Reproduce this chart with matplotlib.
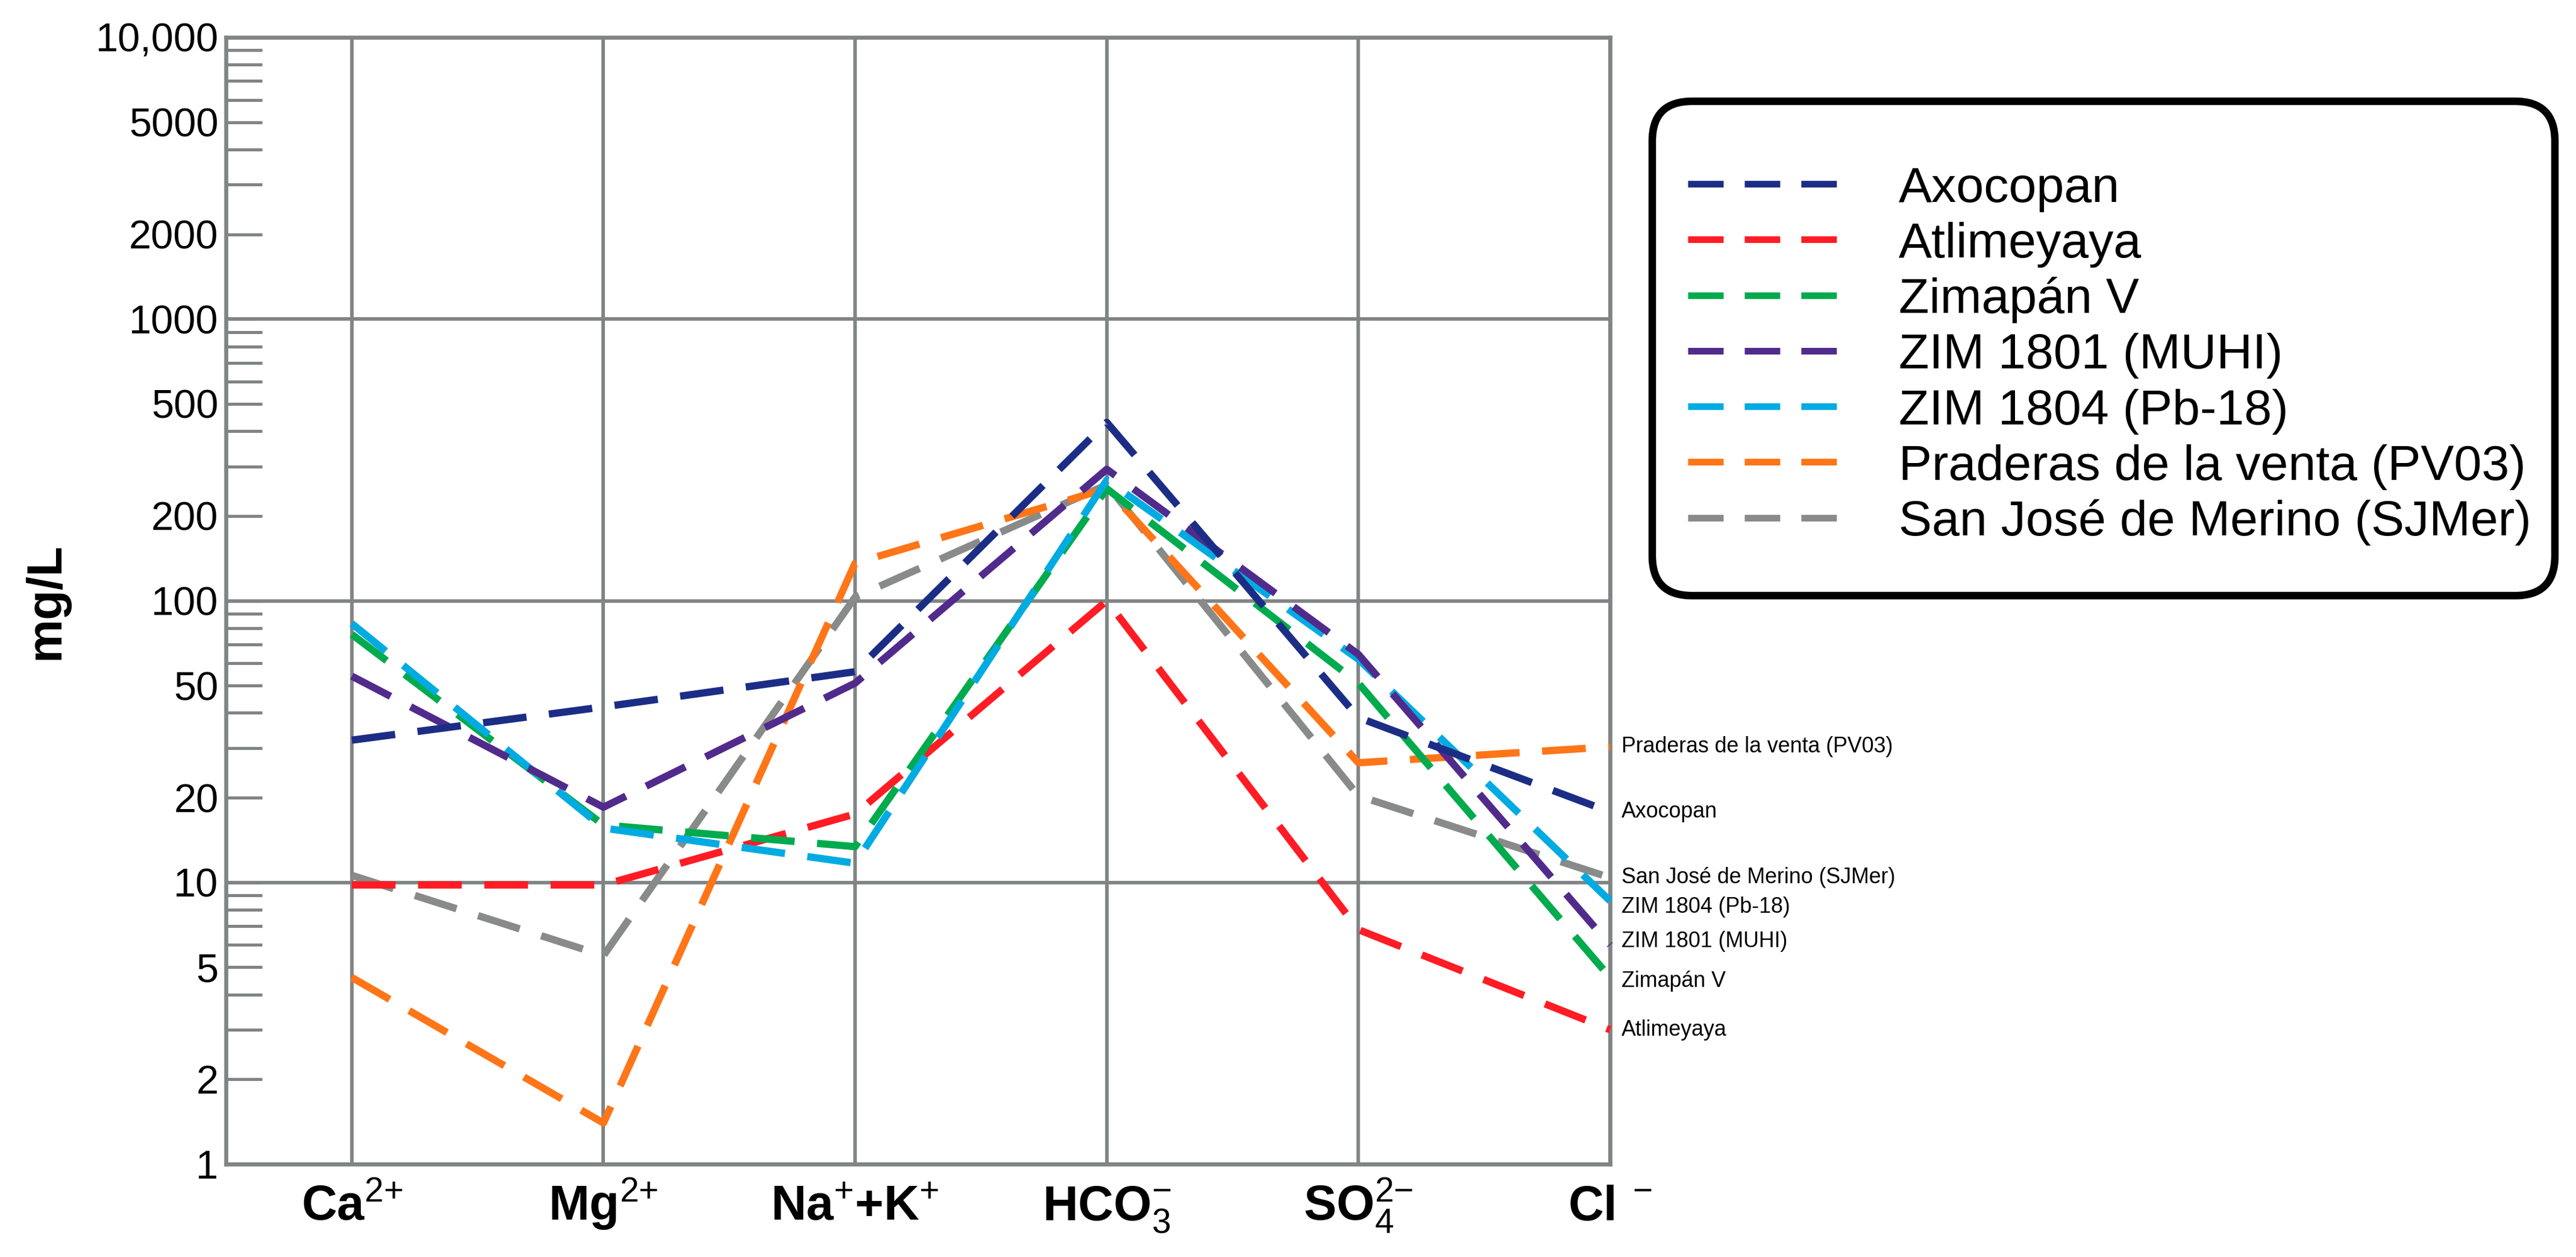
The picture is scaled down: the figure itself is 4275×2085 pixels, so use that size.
import matplotlib

matplotlib.use("Agg")
import matplotlib.pyplot as plt
from matplotlib.lines import Line2D
from matplotlib.patches import FancyBboxPatch

plt.rcParams["font.family"] = ["Liberation Sans", "DejaVu Sans"]
plt.rcParams["mathtext.fontset"] = "custom"
plt.rcParams["mathtext.rm"] = "Liberation Sans"
plt.rcParams["mathtext.bf"] = "Liberation Sans:bold"
plt.rcParams["mathtext.it"] = "Liberation Sans:italic"

# ions on the x axis
ions = [
    r"$\mathbf{Ca}^{\mathrm{2{+}}}$",
    r"$\mathbf{Mg}^{\mathrm{2{+}}}$",
    r"$\mathbf{Na}^{\mathrm{+}}\mathbf{{+}K}^{\mathrm{+}}$",
    r"$\mathbf{HCO}_{\mathrm{3}}^{\mathrm{-}}$",
    r"$\mathbf{SO}_{\mathrm{4}}^{\mathrm{2{-}}}$",
    r"$\mathbf{Cl}^{\mathrm{\ -}}$",
]

# concentrations in mg/L, order: Ca, Mg, Na+K, HCO3, SO4, Cl
names = [
    "Axocopan",
    "Atlimeyaya",
    "Zimapán V",
    "ZIM 1801 (MUHI)",
    "ZIM 1804 (Pb-18)",
    "Praderas de la venta (PV03)",
    "San José de Merino (SJMer)",
]
axocopan = [32, 42, 56, 430, 38.5, 17.8]
atlimeyaya = [9.8, 9.8, 17.5, 100, 6.8, 3.0]
zimapan_v = [76, 16, 13.4, 250, 51, 4.6]
zim_1801 = [54, 18.5, 51, 293, 64.5, 6.0]
zim_1804 = [83, 15.6, 11.7, 268, 62, 8.6]
praderas = [4.6, 1.4, 136, 250, 26.6, 30.3]
sjmer = [10.6, 5.5, 103, 258, 20.3, 10.4]
series = [axocopan, atlimeyaya, zimapan_v, zim_1801, zim_1804, praderas, sjmer]
colors = ["#1c2d85", "#ff1c24", "#00ab4e", "#512b8c", "#00abe2", "#ff7518", "#898b8b"]
draw_order = [6, 5, 1, 2, 4, 3, 0]
label_nudge = [0, 0, -1.5, 1.5, -2.5, 0, 0]  # points, right-hand labels

major_ticks = [1, 10, 100, 1000, 10000]
major_labels = ["1", "10", "100", "1000", "10,000"]
minor_ticks = [m * d for d in [1, 10, 100, 1000] for m in range(2, 10)]
minor_labels = [str(t) if str(t)[0] in "25" else "" for t in minor_ticks]

GRID = "#808485"
W, H, DPI = 4275, 2085, 300

fig = plt.figure(figsize=(W / DPI, H / DPI), dpi=DPI)
ax = fig.add_axes([375 / W, 1 - 1931 / H, (2672 - 375) / W, (1931 - 62) / H])

x = list(range(len(ions)))
for i in draw_order:
    ax.plot(x, series[i], color=colors[i], lw=2.9, dashes=(6.0, 3.1), clip_on=False, zorder=3)
    ax.annotate(names[i], xy=(x[-1], series[i][-1]), xytext=(4.6, label_nudge[i]),
                textcoords="offset points", va="center", ha="left", fontsize=8.6)

ax.set_yscale("log")
ax.set_ylim(1, 10000)
ax.set_xlim(-0.5, 5)
ax.set_xticks(x, labels=ions)
ax.set_yticks(major_ticks, labels=major_labels)
ax.set_yticks(minor_ticks, labels=minor_labels, minor=True)
ax.grid(True, which="major", color=GRID, lw=1.4, zorder=1)
ax.set_axisbelow(True)
ax.tick_params(axis="x", length=0, pad=22.3, labelsize=19.5)
for lab in ax.get_xticklabels():
    lab.set_verticalalignment("baseline")
ax.tick_params(axis="y", which="both", direction="in", length=14.4, width=1.2,
               color=GRID, labelsize=16, pad=3)
for spine in ax.spines.values():
    spine.set_color(GRID)
    spine.set_linewidth(1.6)
ax.set_ylabel("mg/L", fontsize=19.5, fontweight="bold", va="center")
ax.yaxis.set_label_coords(-0.13, 0.5)

# legend box drawn in inches so the rounded corners stay round
box_x0, box_y0 = 2742 / DPI, (H - 988) / DPI
box_w, box_h = (4240 - 2742) / DPI, (988 - 168) / DPI
fig.add_artist(FancyBboxPatch((box_x0, box_y0), box_w, box_h,
                              boxstyle="round,pad=0,rounding_size=0.22",
                              transform=fig.dpi_scale_trans, facecolor="white",
                              edgecolor="black", lw=3, zorder=5))
row0 = (H - 305) / DPI
row_step = 92.3 / DPI
cap_half = 0.716 * 19.8 / 72 / 2
for i, name in enumerate(names):
    y = row0 - i * row_step
    fig.add_artist(Line2D([2801 / DPI, 3048 / DPI], [y, y], transform=fig.dpi_scale_trans,
                          color=colors[i], lw=2.64, dashes=(5.36, 3.18), zorder=6))
    fig.text(3151 / DPI, y - cap_half, name, transform=fig.dpi_scale_trans,
             fontsize=19.8, va="baseline", ha="left", zorder=6)

fig.savefig("out.png", dpi=DPI)
